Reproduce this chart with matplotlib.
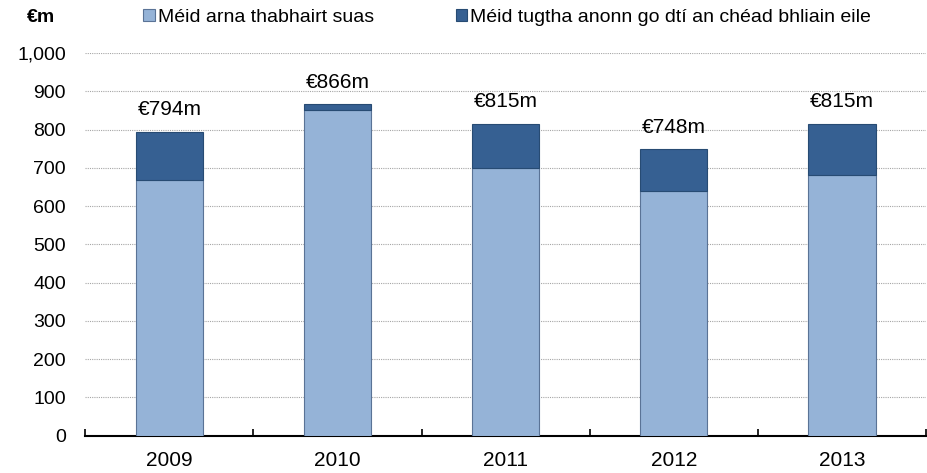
import matplotlib
matplotlib.use("Agg")
import matplotlib.pyplot as plt
import numpy as np

plt.rcParams['font.family'] = ['Liberation Sans', 'DejaVu Sans']

years = ["2009", "2010", "2011", "2012", "2013"]
surrendered = [667, 850, 700, 639, 680]
carried = [127, 16, 115, 109, 135]
totals = [794, 866, 815, 748, 815]
labels = ["Méid arna thabhairt suas", "Méid tugtha anonn go dtí an chéad bhliain eile"]

light = "#95B3D7"
dark = "#366092"

fig = plt.figure(figsize=(9.27, 4.73), dpi=100)
ax = fig.add_axes([0.092, 0.079, 0.907, 0.809])

x = np.arange(len(years))
ax.bar(x, surrendered, width=0.4, color=light, edgecolor="#5A7396", linewidth=0.8,
       label=labels[0], zorder=3)
ax.bar(x, carried, width=0.4, bottom=surrendered, color=dark, edgecolor="#274B73",
       linewidth=0.8, label=labels[1], zorder=3)

for xi, t in zip(x, totals):
    ax.annotate(f"€{t}m", (xi, t), xytext=(0, 9), textcoords="offset points",
                ha="center", va="bottom", fontsize=15)

ax.set_xlim(-0.5, len(years) - 0.5)
ax.set_ylim(0, 1000)
ax.set_yticks(range(0, 1001, 100))
ax.set_yticklabels([f"{v:,}" for v in range(0, 1001, 100)], fontsize=14)
ax.yaxis.grid(True, linestyle=(0, (1, 1)), color="#A6A6A6", linewidth=0.8, zorder=0)
ax.tick_params(axis="y", length=0, pad=14)

ax.set_xticks(x)
ax.set_xticklabels(years, fontsize=15)
ax.set_xticks(np.arange(-0.5, len(years)), minor=True)
ax.tick_params(axis="x", which="major", length=0, pad=11)
ax.tick_params(axis="x", which="minor", direction="in", length=5, width=1.2)

for s in ["top", "right", "left"]:
    ax.spines[s].set_visible(False)
ax.spines["bottom"].set_linewidth(1.5)

fig.text(0.029, 0.964, "€m", fontsize=14, fontweight="bold", va="center")
fig.legend(loc="center", bbox_to_anchor=(0.547, 0.964), ncol=2, frameon=False,
           fontsize=14, handlelength=0.6, handleheight=0.6, handletextpad=0.15,
           columnspacing=4.2)

fig.savefig("out.png", dpi=100)
